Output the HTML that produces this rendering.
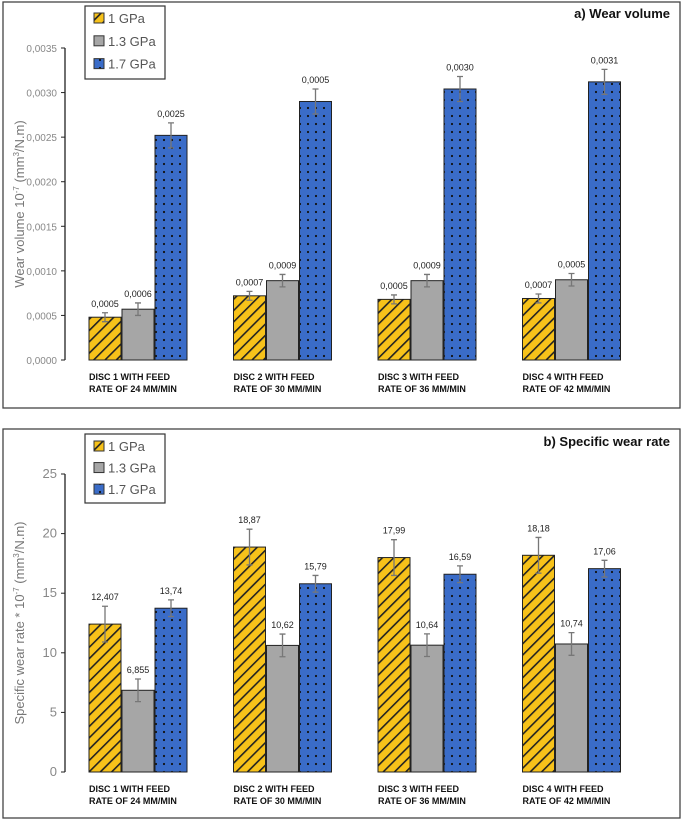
<!DOCTYPE html>
<html><head><meta charset="utf-8"><style>
body{margin:0;background:#fff;}
svg text{font-family:"Liberation Sans",Arial,sans-serif;}
</style></head><body>
<svg id="s" width="685" height="821" xmlns="http://www.w3.org/2000/svg">
<defs>
<pattern id="hatch" width="8" height="8" patternUnits="userSpaceOnUse" patternTransform="rotate(45)">
<rect width="8" height="8" fill="#f7c21a"/><rect x="0" y="0" width="1.6" height="8" fill="#222"/></pattern>
<pattern id="dots" width="8" height="8" patternUnits="userSpaceOnUse">
<rect width="8" height="8" fill="#3a6cc8"/><circle cx="4" cy="4" r="1.1" fill="#111"/></pattern>
</defs>
<rect x="3" y="2" width="677" height="406" fill="none" stroke="#444" stroke-width="1.3"/>
<rect x="3" y="429" width="677" height="389" fill="none" stroke="#444" stroke-width="1.3"/>
<g id="ga"></g><g id="gb"></g>
</svg>
<script>
const categories=["DISC 1 WITH FEED|RATE OF 24 MM/MIN","DISC 2 WITH FEED|RATE OF 30 MM/MIN","DISC 3 WITH FEED|RATE OF 36 MM/MIN","DISC 4 WITH FEED|RATE OF 42 MM/MIN"];
const seriesNames=["1 GPa","1.3 GPa","1.7 GPa"];
const wearA1=[0.00048,0.00072,0.00068,0.00069];
const wearA2=[0.00057,0.00089,0.00089,0.00090];
const wearA3=[0.00252,0.00290,0.00304,0.00312];
const wearLabels1=["0,0005","0,0007","0,0005","0,0007"];
const wearLabels2=["0,0006","0,0009","0,0009","0,0005"];
const wearLabels3=["0,0025","0,0005","0,0030","0,0031"];
const wearErr=[0.00005,0.00007,0.00014];
const wearTicks=["0,0000","0,0005","0,0010","0,0015","0,0020","0,0025","0,0030","0,0035"];
const rateB1=[12.407,18.87,17.99,18.18];
const rateB2=[6.855,10.62,10.64,10.74];
const rateB3=[13.74,15.79,16.59,17.06];
const rateLabels1=["12,407","18,87","17,99","18,18"];
const rateLabels2=["6,855","10,62","10,64","10,74"];
const rateLabels3=["13,74","15,79","16,59","17,06"];
const rateErr=[1.5,0.95,0.7];
const rateTicks=["0","5","10","15","20","25"];
const NS="http://www.w3.org/2000/svg";
function mk(p,t,a,txt){const e=document.createElementNS(NS,t);for(const k in a)e.setAttribute(k,a[k]);if(txt!==undefined)e.textContent=txt;p.appendChild(e);return e;}
const fills=["url(#hatch)","#a6a6a6","url(#dots)"];
function chart(g,o){
  const y=v=>o.y0-(v/o.max)*(o.y0-o.yTop);
  const x=(i,s)=>89+i*144.5+s*33;
  const ax=mk(g,"line",{x1:65,x2:65,y1:o.yTop,y2:o.y0,stroke:"#222","stroke-width":1.3});
  
  
  o.ticks.forEach((t,i)=>{
    const v=i*o.step;
    const tl=mk(g,"line",{x1:61,x2:65,y1:y(v),y2:y(v),stroke:"#222"});
    
    
    const tx=mk(g,"text",{x:57,y:y(v)+4,"text-anchor":"end","font-size":o.tfs,fill:"#888"},t);
    
    
  });
  const yt=mk(g,"text",{transform:`translate(24,${(o.yTop+o.y0)/2}) rotate(-90)`,"text-anchor":"middle","font-size":13,fill:"#777"});
  yt.innerHTML=o.ytitle;
  
  
  const ttl=mk(g,"text",{x:670,y:o.titleY,"text-anchor":"end","font-size":13,"font-weight":"bold",fill:"#111"},o.title);
  
  
  categories.forEach((c,i)=>{
    const parts=c.split("|");
    parts.forEach((p,k)=>{
      const ct=mk(g,"text",{x:89,y:o.y0+20+k*12,"font-size":9,"font-weight":"bold",fill:"#111",transform:`translate(${i*144.5},0)`},p);
      
      
    });
  });
  o.series.forEach((arr,s)=>{
    arr.forEach((v,i)=>{
      const bx=x(i,s),by=y(v);
      const b=mk(g,"rect",{x:bx,y:by,width:32,height:o.y0-by,fill:fills[s],stroke:"#222","stroke-width":1});
      
      
      const e=o.err[s],cx=bx+16;
      const eb=mk(g,"path",{d:`M${cx},${y(v-e)}V${y(v+e)}M${cx-3},${y(v+e)}H${cx+3}M${cx-3},${y(v-e)}H${cx+3}`,stroke:"#777","stroke-width":1.3,fill:"none"});
      
      
      const lt=mk(g,"text",{x:cx,y:y(v+e)-6,"text-anchor":"middle","font-size":9,fill:"#222"},o.labels[s][i]);
      
      
    });
  });
  const lg=mk(g,"g",{});
  
  
  mk(lg,"rect",{x:85,y:o.lgY,width:80,height:o.lgH,fill:"#fff",stroke:"#333","stroke-width":1.2});
  seriesNames.forEach((n,s)=>{
    const ly=o.lgY+13+s*o.lgH/3.2;
    mk(lg,"rect",{x:94,y:ly-6,width:10,height:10,fill:fills[s],stroke:"#333"});
    const le=mk(lg,"text",{x:108,y:ly+4,"font-size":13,fill:"#555"},n);
    
    
  });
}
chart(document.getElementById("ga"),{y0:360,yTop:48,max:0.0035,step:0.0005,ticks:wearTicks,tfs:10,
  ytitle:'Wear volume  10<tspan font-size="8" dy="-5">-7</tspan><tspan dy="5"> (mm</tspan><tspan font-size="8" dy="-5">3</tspan><tspan dy="5">/N.m)</tspan>',
  title:"a) Wear volume",titleY:18,series:[wearA1,wearA2,wearA3],labels:[wearLabels1,wearLabels2,wearLabels3],err:wearErr,lgY:6,lgH:73});
chart(document.getElementById("gb"),{y0:772,yTop:474,max:25,step:5,ticks:rateTicks,tfs:13,
  ytitle:'Specific wear rate * 10<tspan font-size="8" dy="-5">-7</tspan><tspan dy="5"> (mm</tspan><tspan font-size="8" dy="-5">3</tspan><tspan dy="5">/N.m)</tspan>',
  title:"b) Specific wear rate",titleY:446,series:[rateB1,rateB2,rateB3],labels:[rateLabels1,rateLabels2,rateLabels3],err:rateErr,lgY:434,lgH:69});
</script>
</body></html>
